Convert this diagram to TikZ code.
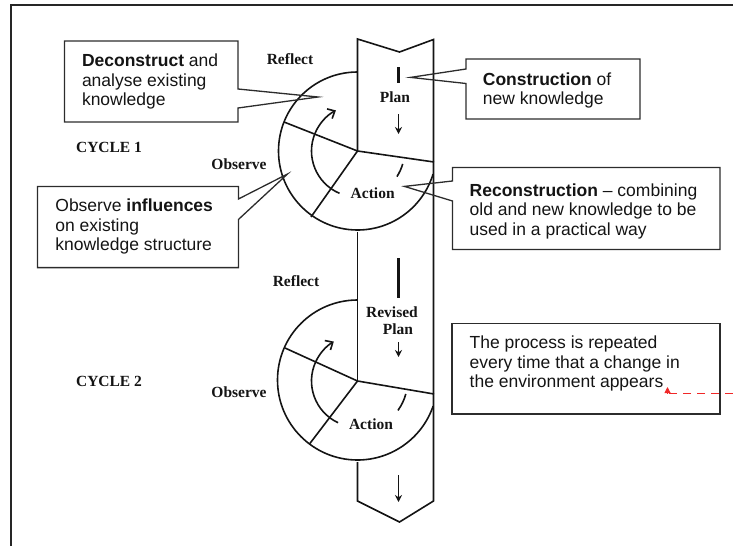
\documentclass[tikz,border=0pt]{standalone}
\usepackage{fontspec}
\setmainfont{Liberation Sans}
\newfontfamily\tms{Liberation Serif}
\usetikzlibrary{arrows.meta}
\definecolor{inkc}{RGB}{20,20,20}
\definecolor{redc}{RGB}{240,40,40}
\begin{document}
\begin{tikzpicture}[x=1pt,y=1pt,
  ln/.style={line width=1.6pt, draw=inkc},
  callout/.style={line width=1.3pt, draw=inkc!90, line join=miter},
  lbl/.style={font=\tms\bfseries\fontsize{15.5}{17}\selectfont, inner sep=0pt, text=inkc},
  bt/.style={font=\fontsize{17.5}{19.6}\selectfont, anchor=base west, inner sep=0pt, text=inkc},
  bar/.style={line width=3pt, draw=inkc},
  darrow/.style={line width=1.8pt, draw=inkc, -{Stealth[length=7pt,width=7pt]}},
  cyclearrow/.style={line width=1.6pt, draw=inkc, -{Straight Barb[length=6pt,width=11pt]}}
]
\useasboundingbox (0,0) rectangle (733,-546);
% outer frame
\draw[line width=2pt, draw=black!85] (11,-546) -- (11,-4.5) -- (733,-4.5);

% band
\coordinate (c1) at (357.5,-151);
\coordinate (c2) at (357.5,-381);
\draw[ln] (357.5,-151) -- (357.5,-39) -- (399.5,-52) -- (433.5,-39.5) -- (433.5,-501) -- (399.5,-522) -- (357.5,-501) -- (357.5,-462);
\draw[ln] (357.5,-232) -- (357.5,-381);

% cycle 1
\draw[ln] (357.5,-72) arc[start angle=90, end angle=343, radius=79];
\draw[ln] (c1) -- (284,-122);
\draw[ln] (c1) -- (434,-162);
\draw[ln] (c1) -- (311,-217);
\draw[cyclearrow] ([shift={(247:46)}]c1) arc[start angle=247, end angle=118, radius=46];
\draw[ln] ([shift={(-16:47)}]c1) arc[start angle=-16, end angle=-33, radius=47];

% cycle 2
\draw[ln] (357.5,-300) arc[start angle=90, end angle=341, radius=80];
\draw[ln] (c2) -- (285,-348);
\draw[ln] (c2) -- (434,-394);
\draw[ln] (c2) -- (309.5,-444);
\draw[cyclearrow] ([shift={(245:46)}]c2) arc[start angle=245, end angle=121, radius=46];
\draw[ln] ([shift={(-15:50)}]c2) arc[start angle=-15, end angle=-36, radius=50];

% band marks
\draw[bar] (398.5,-67) -- (398.5,-83);
\draw[darrow] (398.5,-114) -- (398.5,-134);
\draw[bar] (398.5,-258) -- (398.5,-298);
\draw[darrow] (398.5,-342) -- (398.5,-357);
\draw[darrow] (398.5,-475) -- (398.5,-502);

% labels
\node[lbl] (refl1) at (290,-59) {Reflect};
\node[lbl] (refl2) at (296,-281) {Reflect};
\node[lbl] (obs1) at (239,-164) {Observe};
\node[lbl] (obs2) at (239,-392) {Observe};
\node[lbl] (cyc1) at (109,-147) {CYCLE 1};
\node[lbl] (cyc2) at (109,-381) {CYCLE 2};
\node[lbl] (plan1) at (395,-97) {Plan};
\node[lbl] (act1) at (372.7,-193) {Action};
\node[lbl] (act2) at (371,-424) {Action};
\node[lbl] (rev2) at (392,-312) {Revised};
\node[lbl] (plan2) at (398,-329) {Plan};

% callout: deconstruct
\draw[callout] (64.5,-41) -- (238,-41) -- (238,-89) -- (318,-97) -- (238,-108) -- (238,-122) -- (64.5,-122) -- cycle;
\node[bt] (d1) at (81.8,-66.5) {\textbf{Deconstruct} and};
\node[bt] (d2) at (81.8,-86) {analyse existing};
\node[bt] (d3) at (81.8,-105.5) {knowledge};

% callout: construction
\draw[callout] (466,-59) -- (640,-59) -- (640,-119) -- (466,-119) -- (466,-83.5) -- (410.5,-77.4) -- (466,-69) -- cycle;
\node[bt] (k1) at (482.7,-85) {\textbf{Construction} of};
\node[bt] (k2) at (482.7,-104.5) {new knowledge};

% callout: observe influences
\draw[callout] (37.4,-186.5) -- (238.4,-186.5) -- (238.4,-199) -- (287.5,-174) -- (238.4,-219.5) -- (238.4,-267.6) -- (37.4,-267.6) -- cycle;
\node[bt] (o1) at (55.2,-211.5) {Observe \textbf{influences}};
\node[bt] (o2) at (55.2,-231) {on existing};
\node[bt] (o3) at (55.2,-250.5) {knowledge structure};

% callout: reconstruction
\draw[callout] (452.5,-167.5) -- (720,-167.5) -- (720,-249.5) -- (452.5,-249.5) -- (452.5,-201) -- (404.4,-186.4) -- (452.5,-181) -- cycle;
\node[bt] (r1) at (469.5,-196) {\textbf{Reconstruction} -- combining};
\node[bt] (r2) at (469.5,-215.5) {old and new knowledge to be};
\node[bt] (r3) at (469.5,-235) {used in a practical way};

% process box
\draw[callout] (452,-323.3) rectangle (720,-414);
\node[bt] (p1) at (469.5,-348.5) {The process is repeated};
\node[bt] (p2) at (469.5,-368) {every time that a change in};
\node[bt] (p3) at (469.5,-387.5) {the environment appears};

% red dashed connector
\coordinate (redstart) at (733,-393.5);
\coordinate (redbend) at (667.5,-393.5);
\coordinate (redend) at (667.5,-387);
\draw[draw=redc, line width=1pt, dash pattern=on 8pt off 6pt] (redstart) -- (redbend);
\draw[draw=redc, line width=1pt, -{Triangle[length=6pt,width=6pt]}] (redbend) -- (redend);
\end{tikzpicture}
\end{document}
